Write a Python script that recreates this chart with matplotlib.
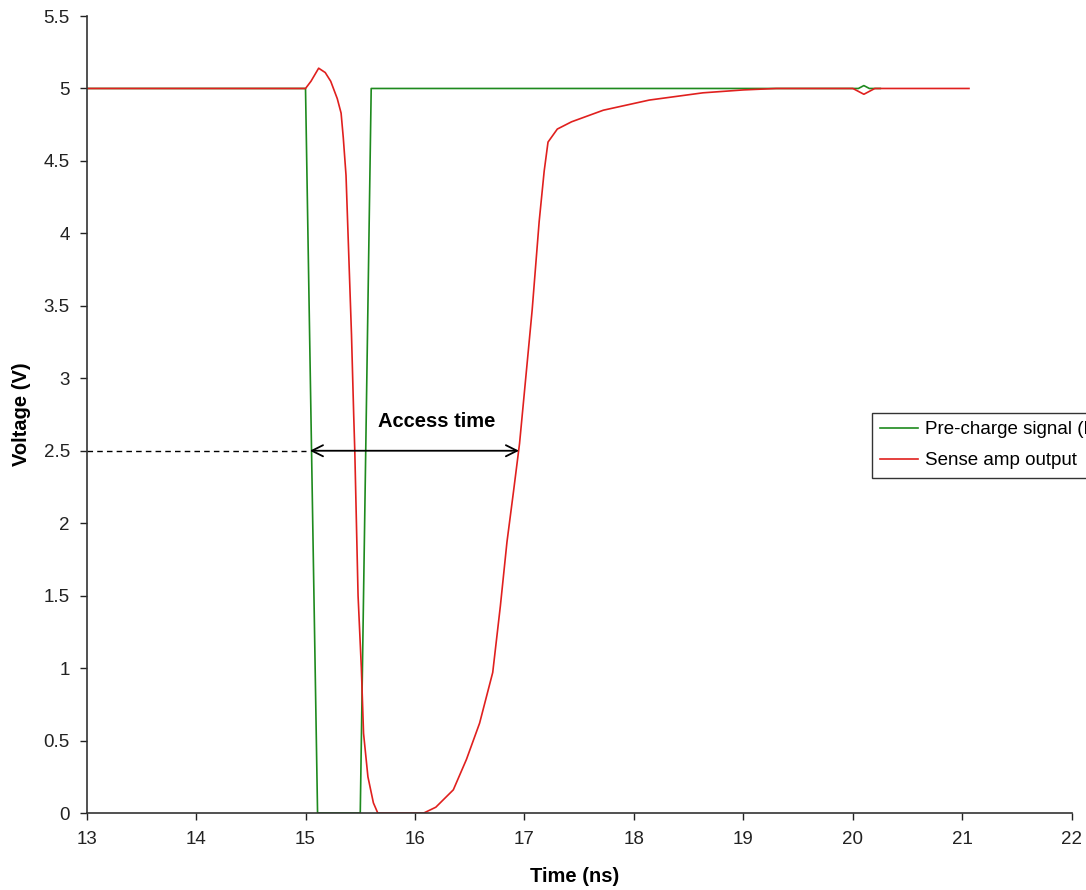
import matplotlib
matplotlib.use("Agg")
import matplotlib.pyplot as plt

plt.rcParams['font.family'] = ['Liberation Sans', 'DejaVu Sans']

# Pre-charge signal waveform (time in ns, voltage in V)
precharge_t = [13.0, 15.0, 15.11, 15.50, 15.60, 20.05, 20.10, 20.15, 20.25]
precharge_v = [5.0, 5.0, 0.0, 0.0, 5.0, 5.0, 5.02, 5.0, 5.0]

# Sense amplifier output waveform
sense_t = [13.0, 15.0, 15.05, 15.12, 15.18, 15.23, 15.29, 15.325, 15.345, 15.37,
           15.395, 15.42, 15.44, 15.45, 15.465, 15.48, 15.51, 15.53, 15.57, 15.62,
           15.66, 16.08, 16.19, 16.35, 16.47, 16.59, 16.71, 16.78, 16.84, 16.90,
           16.955, 17.005, 17.07, 17.134, 17.18, 17.215, 17.30, 17.43, 17.72, 18.14,
           18.63, 19.00, 19.30, 20.00, 20.05, 20.10, 20.15, 20.20, 21.06]
sense_v = [5.0, 5.0, 5.05, 5.14, 5.11, 5.05, 4.93, 4.83, 4.66, 4.40,
           3.85, 3.30, 2.75, 2.5, 2.0, 1.5, 1.0, 0.55, 0.25, 0.07,
           0.0, 0.0, 0.04, 0.16, 0.37, 0.62, 0.97, 1.43, 1.87, 2.22,
           2.55, 2.95, 3.47, 4.08, 4.43, 4.63, 4.72, 4.77, 4.85, 4.92,
           4.97, 4.99, 5.0, 5.0, 4.98, 4.96, 4.98, 5.0, 5.0]

x_ticks = [13, 14, 15, 16, 17, 18, 19, 20, 21, 22]
y_ticks = [0, 0.5, 1, 1.5, 2, 2.5, 3, 3.5, 4, 4.5, 5, 5.5]
y_tick_labels = ["0", "0.5", "1", "1.5", "2", "2.5", "3", "3.5", "4", "4.5", "5", "5.5"]

threshold = 2.5
access_start, access_end = 15.04, 16.95

fig = plt.figure(figsize=(10.86, 8.90), dpi=100)
ax = fig.add_axes([0.0797, 0.0865, 0.9073, 0.8955])

ax.plot(precharge_t, precharge_v, color='#1e8a1e', lw=1.2,
        label='Pre-charge signal (PC)')
ax.plot(sense_t, sense_v, color='#e0201e', lw=1.2,
        label='Sense amp output')

# 50% threshold reference and access time marker
ax.plot([13, 15.0], [threshold, threshold], color='black', lw=1.0,
        linestyle=(0, (4, 3)))
ax.annotate('', xy=(access_start, threshold), xytext=(access_end, threshold),
            arrowprops=dict(arrowstyle='<->, head_length=0.4, head_width=0.2',
                            color='black', lw=1.3, mutation_scale=20,
                            shrinkA=0, shrinkB=0))
ax.text(16.2, 2.70, 'Access time', ha='center', va='center',
        fontsize=14.5, fontweight='bold')

ax.set_xlim(13, 22)
ax.set_ylim(0, 5.5)
ax.set_xticks(x_ticks)
ax.set_yticks(y_ticks)
ax.set_yticklabels(y_tick_labels)
ax.tick_params(direction='out', length=5, width=1, labelsize=13.5,
               colors='#222222')
ax.tick_params(axis='x', pad=8)
ax.tick_params(axis='y', pad=7)
for side in ('top', 'right'):
    ax.spines[side].set_visible(False)
for side in ('left', 'bottom'):
    ax.spines[side].set_color('#333333')
    ax.spines[side].set_linewidth(1.2)

ax.set_xlabel('Time (ns)', fontsize=14.5, fontweight='bold', va='center')
ax.set_ylabel('Voltage (V)', fontsize=14.5, fontweight='bold', va='center')
ax.xaxis.set_label_coords(0.4957, -0.080)
ax.yaxis.set_label_coords(-0.0665, 0.5)

leg = fig.legend(loc='upper left', bbox_to_anchor=(872 / 1086, 1 - 412.5 / 890),
                 frameon=True, fancybox=False, fontsize=13.5,
                 handlelength=2.0, handletextpad=0.36, borderpad=0.45,
                 labelspacing=0.75, borderaxespad=0)
leg.get_frame().set_edgecolor('black')
leg.get_frame().set_linewidth(1.0)

fig.savefig('out.png', dpi=100)
